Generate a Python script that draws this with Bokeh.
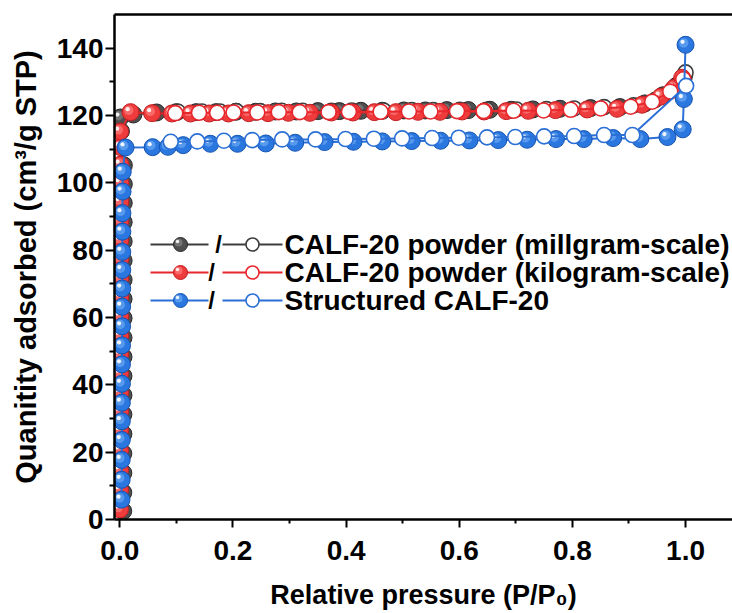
from bokeh.plotting import figure
from bokeh.models import Range1d, LinearAxis, FixedTicker, PrintfTickFormatter, Label
from bokeh.embed import file_html
from bokeh.resources import INLINE

# ---- isotherm data: relative pressure (P/P0) vs uptake (cm3/g STP) ----
# CALF-20 powder, milligram scale
mg_ads_p = [0.0060, 0.0061, 0.0062, 0.0062, 0.0063, 0.0063, 0.0064, 0.0064, 0.0065, 0.0065,
            0.0066, 0.0066, 0.0067, 0.0067, 0.0068, 0.0068, 0.0069, 0.0070, 0.0071, 0.0072,
            0.0020, 0.0010,
            0.024, 0.065, 0.100, 0.135, 0.170, 0.205, 0.240, 0.275, 0.312, 0.350, 0.388,
            0.426, 0.464, 0.502, 0.540, 0.578, 0.616, 0.654, 0.692, 0.730, 0.778, 0.832,
            0.884, 0.928, 0.960, 0.984, 0.997]
mg_ads_q = [2.5, 8.0, 13.8, 19.6, 25.4, 31.2, 36.9, 42.6, 48.3, 54.0,
            59.8, 65.5, 71.2, 76.9, 82.6, 88.3, 94.0, 99.6, 105.2, 110.5,
            115.3, 119.4,
            120.3, 120.9, 121.0, 121.0, 121.0, 121.1, 121.1, 121.2, 121.2, 121.3, 121.3,
            121.4, 121.4, 121.5, 121.5, 121.6, 121.6, 121.7, 121.7, 121.8, 122.0, 122.2,
            122.5, 123.6, 126.0, 128.8, 131.5]
mg_des_p = [1.000, 0.976, 0.946, 0.908, 0.856, 0.803, 0.754, 0.701, 0.648, 0.601, 0.554,
            0.516, 0.466, 0.410, 0.374, 0.323, 0.286, 0.248, 0.206, 0.177, 0.145, 0.103]
mg_des_q = [132.8, 127.6, 124.6, 123.0, 122.5, 122.1, 121.9, 121.8, 121.7, 121.7, 121.6,
            121.6, 121.5, 121.5, 121.4, 121.4, 121.4, 121.3, 121.3, 121.2, 121.2, 121.1]

# CALF-20 powder, kilogram scale
kg_ads_p = [0.0002, 0.0003, 0.0003, 0.0004, 0.0004, 0.0005, 0.0005, 0.0005, 0.0006, 0.0006,
            0.0006, 0.0007, 0.0007, 0.0008, 0.0008, 0.0009, 0.0010, 0.0011, 0.0013, 0.0016,
            0.0005,
            0.019, 0.057, 0.092, 0.125, 0.158, 0.192, 0.228, 0.262, 0.298, 0.336, 0.374,
            0.412, 0.450, 0.488, 0.527, 0.566, 0.605, 0.644, 0.683, 0.722, 0.770, 0.826,
            0.879, 0.923, 0.956, 0.980, 0.994]
kg_ads_q = [3.0, 8.7, 14.6, 20.5, 26.3, 32.0, 37.6, 43.3, 49.0, 54.6,
            60.3, 66.0, 71.6, 77.3, 82.9, 88.6, 94.3, 99.9, 105.4, 110.6,
            115.2,
            121.0, 120.7, 120.6, 120.6, 120.6, 120.6, 120.7, 120.7, 120.8, 120.8, 120.9,
            120.9, 121.0, 121.0, 121.1, 121.1, 121.2, 121.2, 121.3, 121.4, 121.6, 121.8,
            122.0, 123.2, 125.6, 128.2, 131.2]
kg_des_p = [0.996, 0.973, 0.941, 0.903, 0.850, 0.797, 0.749, 0.696, 0.643, 0.596, 0.549,
            0.511, 0.461, 0.405, 0.369, 0.318, 0.281, 0.243, 0.201, 0.172, 0.140, 0.098]
kg_des_q = [130.8, 127.1, 124.1, 122.6, 122.1, 121.7, 121.5, 121.4, 121.3, 121.3, 121.2,
            121.2, 121.1, 121.1, 121.0, 121.0, 121.0, 120.9, 120.9, 120.8, 120.8, 120.7]

# Structured CALF-20
st_ads_p = [0.0030, 0.0032, 0.0033, 0.0034, 0.0035, 0.0036, 0.0037, 0.0038, 0.0039, 0.0040,
            0.0041, 0.0042, 0.0043, 0.0044, 0.0045, 0.0046, 0.0048, 0.0052,
            0.010, 0.058, 0.085, 0.112, 0.160, 0.208, 0.258, 0.310, 0.362, 0.413, 0.464,
            0.516, 0.567, 0.618, 0.669, 0.720, 0.771, 0.820, 0.872, 0.920, 0.968, 0.995,
            0.997, 1.000]
st_ads_q = [5.9, 11.8, 17.7, 23.6, 29.2, 34.7, 40.3, 46.1, 51.7, 57.4,
            63.2, 68.6, 74.1, 79.5, 85.5, 91.0, 97.4, 103.3,
            110.5, 110.6, 110.7, 111.2, 111.6, 111.6, 111.7, 111.9, 112.1, 112.2, 112.3,
            112.4, 112.5, 112.6, 112.7, 112.8, 113.0, 113.0, 113.3, 113.0, 113.6, 115.9,
            124.9, 141.0]
st_des_p = [1.001, 0.906, 0.856, 0.803, 0.750, 0.699, 0.649, 0.599, 0.552, 0.499, 0.449,
            0.399, 0.346, 0.287, 0.234, 0.184, 0.137, 0.090]
st_des_q = [128.8, 114.2, 114.2, 113.9, 113.8, 113.6, 113.5, 113.4, 113.3, 113.2, 113.1,
            113.0, 112.9, 112.9, 112.7, 112.5, 112.3, 112.2]

series_names = ["CALF-20 powder (millgram-scale)",
                "CALF-20 powder (kilogram-scale)",
                "Structured CALF-20"]

x_ticks = [0.0, 0.2, 0.4, 0.6, 0.8, 1.0]
x_minor = [0.1, 0.3, 0.5, 0.7, 0.9]
y_ticks = [0, 20, 40, 60, 80, 100, 120, 140]
y_minor = [10, 30, 50, 70, 90, 110, 130]

# ---- styling ----
FONT = "Liberation Sans"
STYLES = [
    dict(line="#3d3d3d", base="#4f4f4f", rim="#262626", light="#8c8c8c"),
    dict(line="#e8272d", base="#ee3b3b", rim="#c21d22", light="#ff8a8a"),
    dict(line="#2a6fd6", base="#2a77df", rim="#1553b0", light="#76b0f7"),
]

X0, X1 = -0.0094, 1.083
Y0, Y1 = 0, 150
W, H = 732, 613
LEFT, TOP, BOTTOM = 114, 14, 94
FRAME_W = W - LEFT
FRAME_H = H - TOP - BOTTOM

p = figure(width=W, height=H, x_range=Range1d(X0, X1), y_range=Range1d(Y0, Y1),
           output_backend="svg", toolbar_location=None,
           min_border_left=LEFT, min_border_right=0, min_border_top=TOP,
           min_border_bottom=BOTTOM, background_fill_color="white",
           border_fill_color="white")
p.grid.visible = False
p.outline_line_color = None


def px_x(px):
    return X0 + (px - LEFT) * (X1 - X0) / FRAME_W


def px_y(py):
    return Y1 - (py - TOP) * (Y1 - Y0) / FRAME_H


# size of one screen pixel in data units (used for the ball highlights)
DX = (X1 - X0) / FRAME_W
DY = (Y1 - Y0) / FRAME_H


def balls(xs, ys, st, size):
    p.scatter(xs, ys, size=size, marker="circle", fill_color=st["base"],
              line_color=st["rim"], line_width=1)
    hx = [x - 1.8 * DX for x in xs]
    hy = [y + 1.8 * DY for y in ys]
    p.scatter(hx, hy, size=size * 0.55, marker="circle", fill_color=st["light"],
              fill_alpha=0.6, line_color=None)
    sx = [x - 3.0 * DX for x in xs]
    sy = [y + 3.0 * DY for y in ys]
    p.scatter(sx, sy, size=size * 0.25, marker="circle", fill_color="white",
              fill_alpha=0.9, line_color=None)


def rings(xs, ys, st, size):
    p.scatter(xs, ys, size=size, marker="circle", fill_color="white",
              line_color=st["line"], line_width=1.6)


data = [
    (mg_ads_p, mg_ads_q, mg_des_p, mg_des_q),
    (kg_ads_p, kg_ads_q, kg_des_p, kg_des_q),
    (st_ads_p, st_ads_q, st_des_p, st_des_q),
]

for (ap, aq, dp, dq), st in zip(data, STYLES):
    p.line(ap, aq, line_color=st["line"], line_width=2)
    balls(ap, aq, st, 17)
    p.line(dp, dq, line_color=st["line"], line_width=2)
    rings(dp, dq, st, 15)

# ---- axes ----
for ax in (p.xaxis[0], p.yaxis[0]):
    ax.axis_line_width = 2.5
    ax.major_tick_line_width = 2
    ax.minor_tick_line_width = 2
    ax.major_tick_in = 0
    ax.minor_tick_in = 0
    ax.major_label_text_font = FONT
    ax.major_label_text_font_style = "bold"
    ax.major_label_text_font_size = "28px"
    ax.major_label_text_color = "black"
    ax.axis_label_text_font = FONT
    ax.axis_label_text_font_style = "bold"
    ax.axis_label_text_color = "black"

xa = p.xaxis[0]
xa.ticker = FixedTicker(ticks=x_ticks, minor_ticks=x_minor)
xa.formatter = PrintfTickFormatter(format="%.1f")
xa.major_tick_out = 8
xa.minor_tick_out = 4
xa.major_label_standoff = 13
xa.axis_label = "Relative pressure (P/P\u2080)"
xa.axis_label_text_font_size = "27px"
xa.axis_label_standoff = 17

ya = p.yaxis[0]
ya.ticker = FixedTicker(ticks=y_ticks, minor_ticks=y_minor)
ya.major_tick_out = 9
ya.minor_tick_out = 5
ya.major_label_standoff = 2
ya.axis_label = "Quanitity adsorbed (cm\u00b3/g STP)"
ya.axis_label_text_font_size = "29px"
ya.axis_label_standoff = 12

top = LinearAxis(ticker=FixedTicker(ticks=[]), axis_line_width=2.5,
                 major_tick_out=0, minor_tick_out=0, major_label_text_font_size="0px")
p.add_layout(top, "above")

# ---- legend: filled marker / open marker + series name ----
row_py = [244, 272, 300]
slash_px = [218, 211, 211]
for name, st, py, spx in zip(series_names, STYLES, row_py, slash_px):
    y = px_y(py)
    p.segment(x0=[px_x(150)], y0=[y], x1=[px_x(208)], y1=[y],
              line_color=st["line"], line_width=2)
    balls([px_x(180)], [y], st, 14)
    p.add_layout(Label(x=px_x(spx), y=y, text="/", text_font=FONT,
                       text_font_style="bold", text_font_size="24px",
                       text_align="center", text_baseline="middle", text_color="black"))
    p.segment(x0=[px_x(222)], y0=[y], x1=[px_x(282)], y1=[y],
              line_color=st["line"], line_width=2)
    rings([px_x(252)], [y], st, 13)
    p.add_layout(Label(x=px_x(284), y=y, text=name, text_font=FONT,
                       text_font_style="bold", text_font_size="28px",
                       text_align="left", text_baseline="middle", text_color="black"))

open("out.html", "w").write(file_html(p, INLINE))
